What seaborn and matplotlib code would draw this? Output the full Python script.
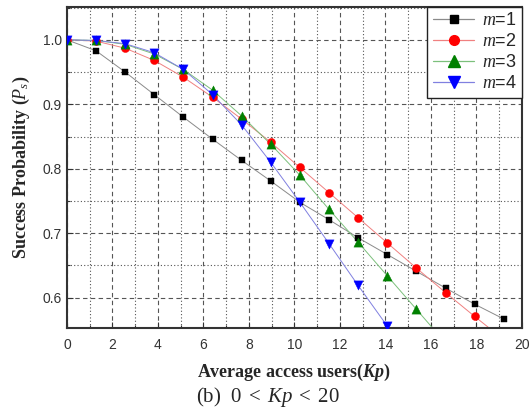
import numpy as np
import pandas as pd
import seaborn as sns
import matplotlib
matplotlib.use("Agg")
import matplotlib.pyplot as plt
from matplotlib.lines import Line2D
from matplotlib.ticker import MultipleLocator, FormatStrFormatter

# ---- data ----
kp = [0.0, 1.28, 2.56, 3.84, 5.12, 6.40, 7.68, 8.96, 10.24, 11.52, 12.80,
      14.08, 15.36, 16.64, 17.92, 19.20]
m1 = [1.000, 0.983, 0.950, 0.915, 0.880, 0.846, 0.813, 0.781, 0.748, 0.721,
      0.693, 0.667, 0.641, 0.615, 0.590, 0.567]
m2 = [1.000, 0.998, 0.987, 0.968, 0.942, 0.911, 0.877, 0.841, 0.802, 0.763,
      0.724, 0.685, 0.646, 0.608, 0.571, 0.535]
m3 = [1.000, 0.999, 0.993, 0.978, 0.954, 0.922, 0.882, 0.838, 0.790, 0.737,
      0.686, 0.634, 0.582, 0.530]
m4 = [1.000, 0.999, 0.994, 0.980, 0.954, 0.915, 0.868, 0.810, 0.748, 0.684,
      0.619, 0.556]
labels = ["$m$=1", "$m$=2", "$m$=3", "$m$=4"]

series = [m1, m2, m3, m4]
frames = []
for lab, vals in zip(labels, series):
    frames.append(pd.DataFrame({"Kp": kp[:len(vals)], "Ps": vals, "m": lab}))
df = pd.concat(frames, ignore_index=True)

line_colors = ["#8a8a8a", "#f08080", "#7cc07c", "#8080e0"]
mk_colors = ["#000000", "#ff0000", "#008000", "#0000ff"]
markers = ["s", "o", "^", "v"]
msizes = [24, 34, 44, 44]

sns.set_style("white")
plt.rcParams["font.family"] = ["Liberation Sans", "DejaVu Sans"]
plt.rcParams["mathtext.fontset"] = "custom"
plt.rcParams["mathtext.rm"] = "Liberation Serif"
plt.rcParams["mathtext.it"] = "Liberation Serif:italic"
plt.rcParams["mathtext.bf"] = "Liberation Serif:bold"
plt.rcParams["mathtext.bfit"] = "Liberation Serif:bold:italic"

fig = plt.figure(figsize=(5.31, 4.08), dpi=100)
ax = fig.add_axes([0.126, 0.196, 0.857, 0.787])

sns.lineplot(data=df, x="Kp", y="Ps", hue="m", palette=line_colors,
             linewidth=0.7, legend=False, ax=ax, zorder=2)
for lab, mc, mk, ms in zip(labels, mk_colors, markers, msizes):
    sub = df[df["m"] == lab]
    sns.scatterplot(data=sub, x="Kp", y="Ps", color=mc, marker=mk, s=ms,
                    edgecolor=mc, linewidth=0.3, ax=ax, zorder=3, legend=False)

ax.set_xlim(0, 20)
ax.set_ylim(0.553, 1.051)
ax.xaxis.set_major_locator(MultipleLocator(2))
ax.xaxis.set_minor_locator(MultipleLocator(1))
ax.yaxis.set_major_locator(MultipleLocator(0.1))
ax.yaxis.set_minor_locator(MultipleLocator(0.05))
ax.yaxis.set_major_formatter(FormatStrFormatter("%.1f"))
ax.grid(which="major", linestyle=(0, (4, 3)), color="#555555", linewidth=0.8)
ax.grid(which="minor", linestyle=(0, (1, 2)), color="#555555", linewidth=0.8)
ax.set_axisbelow(True)
ax.tick_params(which="both", direction="in", length=4, width=0.8,
               labelsize=10, colors="#333333", bottom=True, left=True,
               top=False, right=False)
ax.tick_params(which="minor", length=2.5)
ax.tick_params(axis="x", pad=7)
for s in ax.spines.values():
    s.set_color("#333333")
    s.set_linewidth(1.5)

ax.set_xlabel("Average access users($\\boldsymbol{Kp}$)", fontsize=13,
              fontweight="bold", family="Liberation Serif", labelpad=7)
ax.set_ylabel("Success Probability ($\\boldsymbol{P_s}$)", fontsize=13,
              fontweight="bold", family="Liberation Serif", labelpad=8)

handles = [Line2D([0], [0], color=lc, marker=mk, markerfacecolor=mc,
                  markeredgecolor=mc, markersize=ms, linewidth=0.9)
           for lc, mc, mk, ms in zip(line_colors, mk_colors, markers,
                                     [5.5, 7, 8, 8])]
leg = ax.legend(handles, labels, loc="upper right", fontsize=13,
                frameon=True, fancybox=False, edgecolor="#222222",
                borderaxespad=0.0, handlelength=2.3, labelspacing=0.22,
                borderpad=0.3, handletextpad=0.4)
leg.get_frame().set_linewidth(1.0)
leg.get_frame().set_alpha(1.0)

fig.text(0.505, 0.026, "(b)  $0\\;<\\;Kp\\;<\\;20$", ha="center",
         va="center", fontsize=15, family="Liberation Serif")

fig.savefig("out.png", dpi=100)
